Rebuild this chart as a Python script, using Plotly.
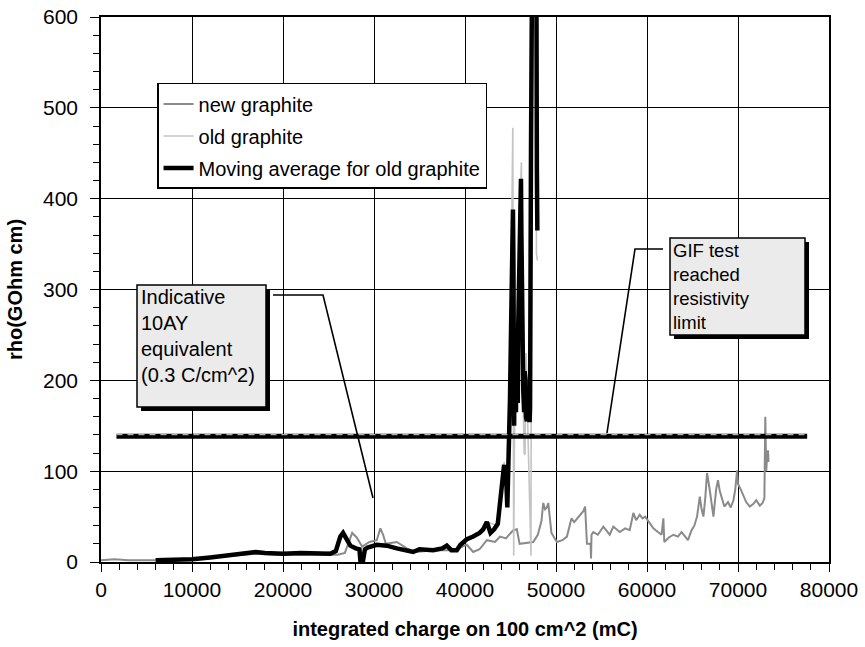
import plotly.graph_objects as go

# ---------------- data ----------------
new_x = [0, 1500, 3000, 6000, 10000, 14000, 17000, 20000, 24000, 26000, 26800, 27300, 27600, 28100,
         28700, 29500, 30300, 30700, 31000, 31300, 32500, 33600, 34700, 36500, 38700, 40200, 40900,
         41600, 42400, 43300, 43850, 44500, 45300, 45700, 46000, 47500, 48000, 48400, 48600, 48800,
         49000, 49150, 49500, 50100, 50700, 51200, 51700, 52000, 52600, 53000, 53200, 53400, 53800,
         53850, 53900, 54100, 54600, 55200, 55600, 55900, 56300, 56700, 57000, 57600, 58100, 58500,
         58800, 59200, 59500, 59800, 60200, 60700, 61200, 61600, 61800, 61900, 62400, 62900, 63400,
         63800, 64200, 64500, 64900, 65200, 65500, 65800, 66000, 66200, 66400, 66600, 66900, 67100,
         67300, 67600, 67800, 68000, 68200, 68500, 68900, 69200, 69500, 69700, 69900, 70000, 70300,
         70500, 70900, 71300, 71700, 72000, 72400, 72700, 72900, 73000, 73100, 73200, 73300, 73350]
new_y = [2, 3, 2, 2, 3, 6, 9, 8, 8, 8, 10, 25, 32, 27,
         17, 22, 24, 37, 30, 20, 22, 15, 11, 13, 13, 19, 11,
         14, 24, 22, 28, 26, 35, 36, 20, 22, 30, 45, 65, 58,
         60, 65, 32, 22, 24, 28, 48, 44, 52, 56, 61, 20, 20,
         4, 30, 33, 30, 39, 34, 30, 39, 35, 33, 37, 35, 54,
         46, 52, 48, 50, 44, 37, 33, 30, 48, 22, 27, 30, 28,
         33, 28, 24, 35, 40, 50, 72, 58, 50, 70, 98, 79, 62,
         50, 80, 90, 78, 72, 61, 66, 60, 68, 80, 101, 86, 80,
         75, 66, 61, 64, 68, 62, 65, 70, 160, 100, 116, 123, 110]

old_x = [6000, 10000, 14000, 17000, 20000, 24000, 25800, 26500, 27300, 28400, 28600, 29000, 30300,
         33600, 36500, 38000, 39100, 40200, 41600, 42400, 43600, 44100, 44300, 44700, 44900, 45100,
         45250, 45300, 45350, 45450, 45600, 45800, 46000, 46200, 46350, 46500, 46600, 46700, 46900,
         47100, 47250, 47300, 47400, 47800, 47850, 47950]
old_y = [2, 3, 7, 11, 9, 9, 12, 30, 18, 14, 3, 14, 19,
         13, 13, 17, 13, 25, 32, 44, 40, 95, 110, 60, 185, 330,
         478, 120, 7, 160, 250, 175, 380, 440, 200, 120, 118, 230, 150,
         60, 7, 400, 620, 620, 340, 332]

ma_x = [6000, 8000, 10000, 12000, 14000, 16000, 17000, 18000, 19000, 20000, 22000, 24000, 25200,
        25800, 26300, 26600, 27000, 27400, 28000, 28400, 28500, 28800, 29000, 29300, 30300, 31400,
        32500, 33600, 34300, 35000, 36500, 37500, 38000, 38500, 39100, 39500, 40200, 40900, 41600,
        42000, 42400, 42800, 43200, 43600, 43900, 44100, 44300, 44400, 44500, 44650, 44800, 44950,
        45050, 45100, 45200, 45270, 45320, 45350, 45400, 45450, 45500, 45550, 45600, 45650, 45700,
        45750, 45800, 45850, 45900, 45980, 46050, 46100, 46150, 46200, 46250, 46300, 46350, 46400,
        46500, 46550, 46650, 46700, 46800, 46850, 46950, 47000, 47100, 47150, 47250, 47350, 47600,
        47850, 47900, 47950]
ma_y = [2, 2, 3, 5, 7, 10, 11, 10, 9, 9, 10, 9, 9,
        12, 28, 32, 24, 18, 15, 14, 2, 2, 14, 16, 19, 18,
        15, 13, 11, 14, 13, 15, 18, 13, 13, 19, 25, 28, 32,
        36, 44, 32, 36, 42, 70, 93, 107, 90, 100, 60, 105, 183,
        250, 320, 300, 388, 330, 300, 150, 230, 250, 170, 165, 240, 256,
        190, 175, 260, 300, 340, 380, 400, 422, 360, 300, 250, 220, 190,
        165, 210, 200, 160, 155, 190, 160, 175, 154, 170, 450, 620, 620,
        620, 430, 365]

limit_x = [1700, 77600]
limit_y = [138.5, 138.5]

x_ticks = [0, 10000, 20000, 30000, 40000, 50000, 60000, 70000, 80000]
y_ticks = [0, 100, 200, 300, 400, 500, 600]

FONT = "Liberation Sans, Arial, Helvetica, sans-serif"

# screen pixel -> data helpers for layout placement (plot area 101..829 x 17..562)
def dx(px):
    return (px - 101) / 728 * 80000

def dy(py):
    return (562 - py) / 545 * 600

fig = go.Figure()
fig.add_trace(go.Scatter(x=new_x, y=new_y, mode="lines", name="new graphite",
                         line=dict(color="#8a8a8a", width=2), legendgroup="a"))
fig.add_trace(go.Scatter(x=old_x, y=old_y, mode="lines", name="old graphite",
                         line=dict(color="#c4c4c4", width=1.6), legendgroup="b"))
fig.add_trace(go.Scatter(x=ma_x, y=ma_y, mode="lines", name="Moving average for old graphite",
                         line=dict(color="#000000", width=4.5), legendgroup="c"))
fig.add_trace(go.Scatter(x=limit_x, y=limit_y, mode="lines", showlegend=False,
                         line=dict(color="#000000", width=5)))
fig.add_trace(go.Scatter(x=limit_x, y=[v + 1.8 for v in limit_y], mode="lines", showlegend=False,
                         line=dict(color="#b0b0b0", width=1.3, dash="6px,5px")))

shapes = []
for (x0, y0, x1, y1) in [(137, 285, 266, 407), (670, 238, 805, 335)]:
    shapes.append(dict(type="rect", xref="x", yref="y", x0=dx(x0 + 4), x1=dx(x1 + 4),
                       y0=dy(y0 + 4), y1=dy(y1 + 4), fillcolor="#000000", line=dict(width=0)))
    shapes.append(dict(type="rect", xref="x", yref="y", x0=dx(x0), x1=dx(x1), y0=dy(y0), y1=dy(y1),
                       fillcolor="#ebebeb", line=dict(color="#000000", width=1.5)))
shapes.append(dict(type="path", xref="x", yref="y",
                   path=f"M {dx(273)},{dy(295)} L {dx(323)},{dy(295)} L {dx(373)},{dy(498)}",
                   line=dict(color="#000000", width=1.6)))
shapes.append(dict(type="path", xref="x", yref="y",
                   path=f"M {dx(663)},{dy(249)} L {dx(635)},{dy(249)} L {dx(607)},{dy(433)}",
                   line=dict(color="#000000", width=1.6)))

annotations = [
    dict(x=dx(139), y=dy(284), xref="x", yref="y", xanchor="left", yanchor="top", align="left",
         showarrow=False, text="Indicative<br>10AY<br>equivalent<br>(0.3 C/cm^2)",
         font=dict(family=FONT, size=20, color="#000000")),
    dict(x=dx(671), y=dy(238), xref="x", yref="y", xanchor="left", yanchor="top", align="left",
         showarrow=False, text="GIF test<br>reached<br>resistivity<br>limit",
         font=dict(family=FONT, size=18.5, color="#000000")),
]

fig.update_layout(
    width=865, height=647,
    margin=dict(l=101, r=36, t=17, b=85, autoexpand=False),
    paper_bgcolor="white", plot_bgcolor="white",
    font=dict(family=FONT, size=21, color="#000000"),
    shapes=shapes, annotations=annotations,
    showlegend=True,
    legend=dict(x=0.077, y=0.879, xanchor="left", yanchor="top",
                bgcolor="white", bordercolor="#000000", borderwidth=1.5,
                font=dict(family=FONT, size=20, color="#000000"),
                traceorder="grouped", tracegroupgap=3, itemwidth=30),
)
fig.update_xaxes(range=[0, 80000], tickvals=x_ticks, ticktext=[str(v) for v in x_ticks],
                 automargin=False, ticklabeloverflow="allow",
                 showgrid=True, gridcolor="#000000", gridwidth=1.3, zeroline=False,
                 showline=True, linecolor="#000000", linewidth=1.5, mirror=True,
                 ticks="outside", ticklen=8, tickwidth=1.3, tickcolor="#000000",
                 minor=dict(dtick=2000, ticks="outside", ticklen=6, tickwidth=1.3, tickcolor="#000000", showgrid=False),
                 tickfont=dict(size=21), title=dict(text="integrated charge on 100 cm^2 (mC)",
                 font=dict(size=20, weight="bold"), standoff=22))
fig.update_yaxes(range=[0, 600], tickvals=y_ticks, ticktext=[str(v) for v in y_ticks],
                 automargin=False, ticklabelstandoff=8, ticklabeloverflow="allow",
                 showgrid=True, gridcolor="#000000", gridwidth=1.3, zeroline=False,
                 showline=True, linecolor="#000000", linewidth=1.5, mirror=True,
                 ticks="outside", ticklen=9, tickwidth=1.3, tickcolor="#000000",
                 minor=dict(dtick=20, ticks="outside", ticklen=6, tickwidth=1.3, tickcolor="#000000", showgrid=False),
                 tickfont=dict(size=21), title=dict(text="rho(GOhm cm)",
                 font=dict(size=20, weight="bold"), standoff=15))

# remove the browser's default 8px body margin so the figure sits at the page origin
fig.write_html("out.html", config={"displayModeBar": False},
               post_script="document.body.style.margin='0px';")
